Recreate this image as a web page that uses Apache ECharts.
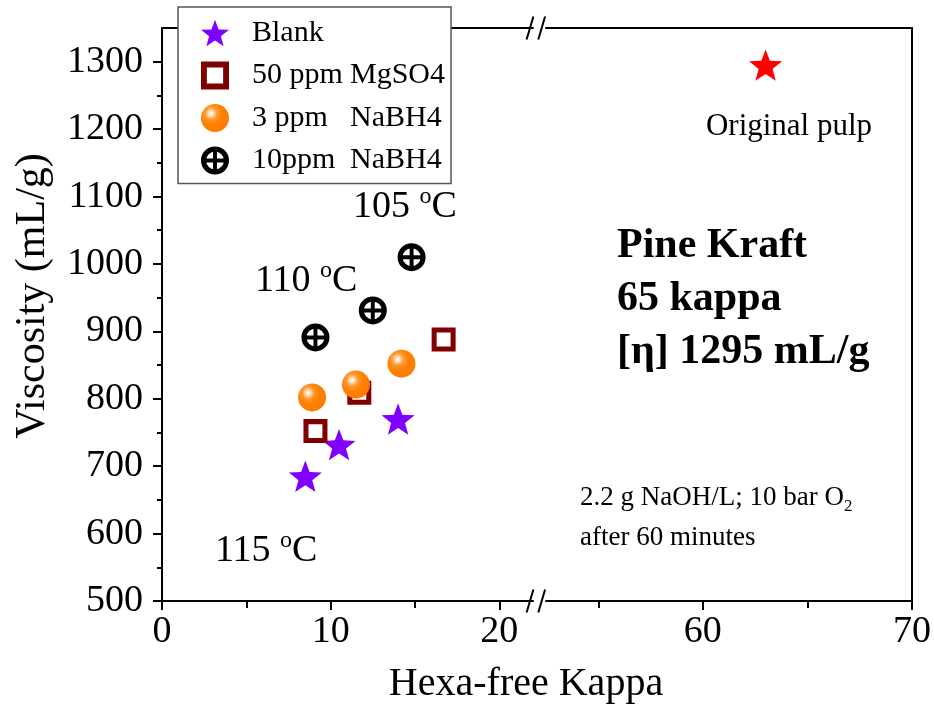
<!DOCTYPE html>
<html>
<head>
<meta charset="utf-8">
<script src="https://cdn.jsdelivr.net/npm/echarts@6/dist/echarts.min.js"></script>
<style>
  html, body { margin: 0; padding: 0; background: #ffffff; }
  #chart { width: 934px; height: 706px; }
</style>
</head>
<body>
<div id="chart"></div>
<script>
// Viscosity vs hexa-free kappa after oxygen delignification
const blankX  = [8.5, 10.5, 14.0];
const blankY  = [685, 732, 770];
const mgso4X  = [9.1, 11.7, 16.7];
const mgso4Y  = [752, 809, 888];
const nabh3X  = [8.9, 11.5, 14.2];
const nabh3Y  = [802, 821, 852];
const nabh10X = [9.1, 12.5, 14.8];
const nabh10Y = [891, 931, 1010];
const pulpX   = [63];
const pulpY   = [1295];

const seriesNames = ['Blank', '50 ppm MgSO4', '3 ppm   NaBH4', '10ppm  NaBH4'];
const legendParts = [['Blank', ''], ['50 ppm', 'MgSO4'], ['3 ppm', 'NaBH4'], ['10ppm', 'NaBH4']];

const yMajorTicks = [500, 600, 700, 800, 900, 1000, 1100, 1200, 1300];
const yMinorTicks = [550, 650, 750, 850, 950, 1050, 1150, 1250];
const xLeftMajor  = [0, 10, 20];
const xLeftMinor  = [5, 15];
const xRightMajor = [60, 70];
const xRightMinor = [55, 65];

const yRange      = [500, 1350];
const xLeftRange  = [0, 22];
const xRightRange = [52.5, 70];

// plot frame geometry (px)
const FRAME = { left: 162, breakL: 533, breakR: 546, right: 914, top: 28, bottom: 601 };

const FONT = '"Liberation Serif", "Times New Roman", serif';

const STAR = 'path://M50,0L62.3,33L97.6,34.5L70,56.5L79.4,90.5L50,71L20.6,90.5L30,56.5L2.4,34.5L37.7,33Z';
const SQUARE_RING = 'path://M0,0H100V100H0Z M21,21V79H79V21Z';
const CIRCLE_PLUS = 'path://M50,0A50,50 0 1,1 50,100A50,50 0 1,1 50,0Z M50,18A32,32 0 1,0 50,82A32,32 0 1,0 50,18Z M43,18L57,18L57,82L43,82Z M18,43L82,43L82,57L18,57Z';

const sphereFill = {
  type: 'radial', x: 0.36, y: 0.34, r: 0.66,
  colorStops: [
    { offset: 0, color: '#ffffff' },
    { offset: 0.12, color: '#ffe2c4' },
    { offset: 0.32, color: '#ff9a33' },
    { offset: 0.6, color: '#ff8000' },
    { offset: 1, color: '#ff7b00' }
  ]
};

const zip = (xs, ys) => xs.map((x, i) => [x, ys[i]]);

const lineStyle = { color: '#000', width: 2 };

function frameAxis(gridIndex, range, position) {
  return {
    type: 'value', gridIndex, position, min: range[0], max: range[1],
    axisLine: { show: true, onZero: false, lineStyle },
    axisTick: { show: false }, axisLabel: { show: false },
    splitLine: { show: false }
  };
}

function tickAxis(gridIndex, range, position, ticks, len, withLabels, labelMargin) {
  return {
    type: 'value', gridIndex, position, min: range[0], max: range[1],
    axisLine: { show: withLabels, onZero: false, lineStyle },
    axisTick: { show: true, inside: false, length: len, customValues: ticks, lineStyle },
    axisLabel: withLabels
      ? { show: true, customValues: ticks, margin: labelMargin, color: '#000',
          fontFamily: FONT, fontSize: 38, formatter: v => String(v) }
      : { show: false },
    splitLine: { show: false }
  };
}

const xAxes = [
  tickAxis(0, xLeftRange, 'bottom', xLeftMajor, 9, true, 12),
  tickAxis(0, xLeftRange, 'bottom', xLeftMinor, 7, false),
  frameAxis(0, xLeftRange, 'top'),
  tickAxis(1, xRightRange, 'bottom', xRightMajor, 9, true, 12),
  tickAxis(1, xRightRange, 'bottom', xRightMinor, 7, false),
  frameAxis(1, xRightRange, 'top')
];
const yAxes = [
  tickAxis(0, yRange, 'left', yMajorTicks, 9, true, 19),
  tickAxis(0, yRange, 'left', yMinorTicks, 5, false),
  frameAxis(1, yRange, 'right')
];

function scatter(name, data, symbol, size, style, xi, yi) {
  return {
    type: 'scatter', name, data, symbol, symbolSize: size, symbolKeepAspect: true,
    xAxisIndex: xi, yAxisIndex: yi, itemStyle: Object.assign({ opacity: 1 }, style),
    silent: true, z: 3
  };
}

const series = [
  scatter(seriesNames[0], zip(blankX, blankY), STAR, 33, { color: '#8000ff' }, 0, 0),
  scatter(seriesNames[1], zip(mgso4X, mgso4Y), SQUARE_RING, 24, { color: '#800000' }, 0, 0),
  scatter(seriesNames[2], zip(nabh3X, nabh3Y), 'circle', 28, { color: sphereFill }, 0, 0),
  scatter(seriesNames[3], zip(nabh10X, nabh10Y), CIRCLE_PLUS, 28, { color: '#000000' }, 0, 0),
  scatter('Original pulp', zip(pulpX, pulpY), STAR, 33, { color: '#ff0000' }, 3, 2)
];

// "//" marks where the x axis is broken
function breakMarks() {
  const out = [];
  const cxs = [FRAME.breakL - 3, FRAME.breakL + 8.7];
  [FRAME.top, FRAME.bottom].forEach(y => {
    cxs.forEach(cx => {
      out.push({
        type: 'line', silent: true, z: 10,
        shape: { x1: cx - 3.4, y1: y + 11.5, x2: cx + 3.4, y2: y - 11.5 },
        style: { stroke: '#000', lineWidth: 2 }
      });
    });
  });
  return out;
}

function plainText(text, x, y, size, opts) {
  return Object.assign({
    type: 'text', x, y, silent: true, z: 20,
    style: Object.assign({
      text, fill: '#000', fontFamily: FONT, fontSize: size,
      align: 'left', verticalAlign: 'middle'
    }, (opts && opts.style) || {})
  }, (opts && opts.el) || {});
}

function tempText(value, x, y) {
  return {
    type: 'text', x, y, silent: true, z: 20,
    style: {
      text: '{n|' + value + ' }{s|o}{n|C}',
      align: 'left', verticalAlign: 'middle',
      rich: {
        n: { fontFamily: FONT, fontSize: 38, lineHeight: 44, fill: '#000' },
        s: { fontFamily: FONT, fontSize: 24, lineHeight: 20, verticalAlign: 'top', fill: '#000' }
      }
    }
  };
}

const graphics = [
  ...breakMarks(),
  plainText('Viscosity (mL/g)', 33, 296, 42, { style: { align: 'center' }, el: { rotation: Math.PI / 2 } }),
  plainText('Hexa-free Kappa', 526, 684, 40, { style: { align: 'center' } }),
  plainText('Original pulp', 789, 127, 31, { style: { align: 'center' } }),
  tempText(105, 353, 207),
  tempText(110, 255, 281),
  tempText(115, 215, 551),
  plainText('Pine Kraft', 617, 246, 42, { style: { fontWeight: 'bold' } }),
  plainText('65 kappa', 617, 299, 42, { style: { fontWeight: 'bold' } }),
  plainText('[η] ' + pulpY[0] + ' mL/g', 617, 352, 42, { style: { fontWeight: 'bold' } }),
  {
    type: 'text', x: 580, y: 498, silent: true, z: 20,
    style: {
      text: '{t|2.2 g NaOH/L; 10 bar O}{sub|2}',
      align: 'left', verticalAlign: 'middle',
      rich: {
        t: { fontFamily: FONT, fontSize: 27, lineHeight: 34, fill: '#000' },
        sub: { fontFamily: FONT, fontSize: 17, lineHeight: 17, verticalAlign: 'bottom', fill: '#000' }
      }
    }
  },
  plainText('after 60 minutes', 580, 538, 27)
];

const chart = echarts.init(document.getElementById('chart'), null, { renderer: 'canvas' });
chart.setOption({
  animation: false,
  backgroundColor: '#ffffff',
  grid: [
    { left: FRAME.left, top: FRAME.top, width: FRAME.breakL - FRAME.left, height: FRAME.bottom - FRAME.top },
    { left: FRAME.breakR, top: FRAME.top, width: FRAME.right - FRAME.breakR, height: FRAME.bottom - FRAME.top }
  ],
  xAxis: xAxes,
  yAxis: yAxes,
  legend: {
    data: seriesNames,
    orient: 'vertical', left: 178, top: 7,
    padding: [11, 6, 8, 23],
    itemWidth: 28, itemHeight: 28, itemGap: 12.5,
    backgroundColor: '#ffffff', borderColor: '#555555', borderWidth: 1.5,
    selectedMode: false,
    formatter: name => {
      const p = legendParts[seriesNames.indexOf(name)];
      return p[1] ? '{a|' + p[0] + '}{b|' + p[1] + '}' : '{b|' + p[0] + '}';
    },
    textStyle: {
      color: '#000', fontFamily: FONT, fontSize: 30, padding: [0, 0, 0, 18],
      rich: {
        a: { width: 98, fontFamily: FONT, fontSize: 30, color: '#000' },
        b: { fontFamily: FONT, fontSize: 30, color: '#000' }
      }
    }
  },
  series,
  graphic: graphics
});
</script>
</body>
</html>
